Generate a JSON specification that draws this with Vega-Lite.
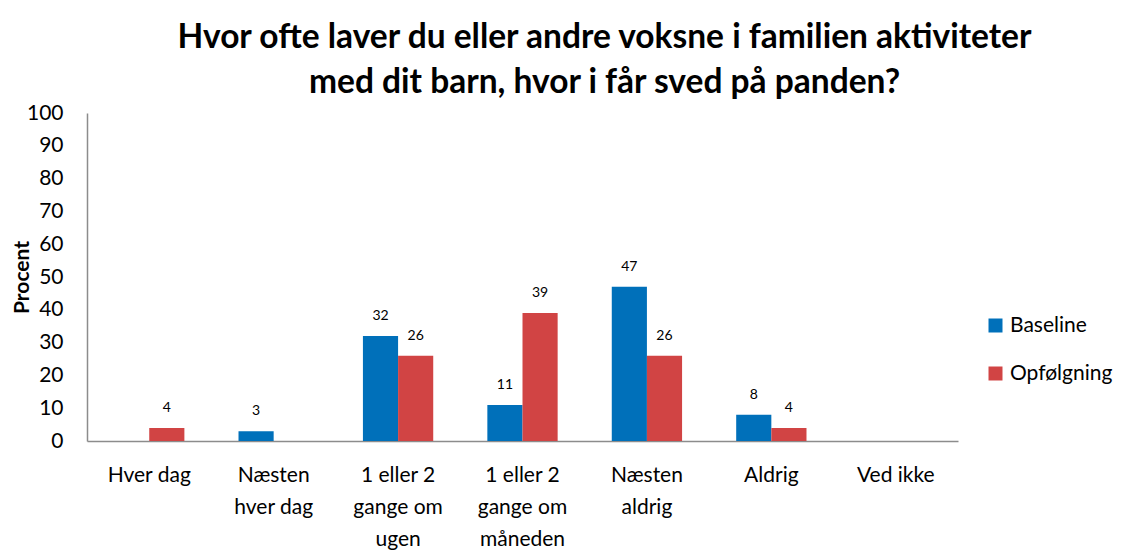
{
  "$schema": "https://vega.github.io/schema/vega-lite/v6.json",
  "width": 871,
  "height": 328,
  "autosize": {"type": "none"},
  "padding": {"left": 87, "top": 113, "right": 173, "bottom": 119},
  "background": "white",
  "title": {
    "text": ["Hvor ofte laver du eller andre voksne i familien aktiviteter", "med dit barn, hvor i får sved på panden?"],
    "font": "Lato",
    "fontSize": 33.5,
    "fontWeight": "bold",
    "color": "#000000",
    "anchor": "middle",
    "frame": "group",
    "dx": 82,
    "offset": 2,
    "lineHeight": 45
  },
  "data": {
    "values": [
      {"kategori": "Hver dag", "serie": "Opfølgning", "procent": 4},
      {"kategori": "Næsten hver dag", "serie": "Baseline", "procent": 3},
      {"kategori": "1 eller 2 gange om ugen", "serie": "Baseline", "procent": 32},
      {"kategori": "1 eller 2 gange om ugen", "serie": "Opfølgning", "procent": 26},
      {"kategori": "1 eller 2 gange om måneden", "serie": "Baseline", "procent": 11},
      {"kategori": "1 eller 2 gange om måneden", "serie": "Opfølgning", "procent": 39},
      {"kategori": "Næsten aldrig", "serie": "Baseline", "procent": 47},
      {"kategori": "Næsten aldrig", "serie": "Opfølgning", "procent": 26},
      {"kategori": "Aldrig", "serie": "Baseline", "procent": 8},
      {"kategori": "Aldrig", "serie": "Opfølgning", "procent": 4}
    ]
  },
  "encoding": {
    "x": {
      "field": "kategori",
      "type": "nominal",
      "sort": null,
      "scale": {
        "domain": ["Hver dag", "Næsten hver dag", "1 eller 2 gange om ugen", "1 eller 2 gange om måneden", "Næsten aldrig", "Aldrig", "Ved ikke"],
        "paddingInner": 0.435,
        "paddingOuter": 0.2177
      },
      "axis": {
        "title": null,
        "labelAngle": 0,
        "ticks": false,
        "domainColor": "#8c8c8c",
        "domainWidth": 1.5,
        "labelFont": "Lato",
        "labelFontSize": 21,
        "labelColor": "#000000",
        "labelPadding": 23,
        "labelLineHeight": 32,
        "labelExpr": "{'Næsten hver dag': ['Næsten', 'hver dag'], '1 eller 2 gange om ugen': ['1 eller 2', 'gange om', 'ugen'], '1 eller 2 gange om måneden': ['1 eller 2', 'gange om', 'måneden'], 'Næsten aldrig': ['Næsten', 'aldrig']}[datum.label] || datum.label"
      }
    },
    "xOffset": {
      "field": "serie",
      "type": "nominal",
      "scale": {"domain": ["Baseline", "Opfølgning"]}
    },
    "y": {
      "field": "procent",
      "type": "quantitative",
      "scale": {"domain": [0, 100]},
      "axis": {
        "title": "Procent",
        "values": [0, 10, 20, 30, 40, 50, 60, 70, 80, 90, 100],
        "grid": false,
        "ticks": false,
        "domainColor": "#8c8c8c",
        "domainWidth": 1.5,
        "labelFont": "Lato",
        "labelFontSize": 21,
        "labelColor": "#000000",
        "labelPadding": 24,
        "titleFont": "Lato",
        "titleFontSize": 21,
        "titleFontWeight": "bold",
        "titleColor": "#000000",
        "titleAngle": -90,
        "titleX": -65,
        "titleY": 164,
        "titleAlign": "center",
        "titleBaseline": "middle"
      }
    }
  },
  "layer": [
    {
      "mark": {"type": "bar"},
      "encoding": {
        "color": {
          "field": "serie",
          "type": "nominal",
          "scale": {"domain": ["Baseline", "Opfølgning"], "range": ["#0070BA", "#D14444"]},
          "legend": {
            "title": null,
            "orient": "none",
            "legendX": 898,
            "legendY": 202,
            "symbolType": "square",
            "symbolSize": 196,
            "symbolStrokeWidth": 0,
            "labelFont": "Lato",
            "labelFontSize": 21,
            "labelColor": "#000000",
            "labelOffset": 4,
            "rowPadding": 26
          }
        }
      }
    },
    {
      "mark": {"type": "text", "baseline": "bottom", "dy": -13, "fontSize": 14, "font": "Lato", "color": "#000000"},
      "encoding": {
        "text": {"field": "procent", "type": "quantitative"}
      }
    }
  ],
  "config": {"view": {"stroke": null}}
}
